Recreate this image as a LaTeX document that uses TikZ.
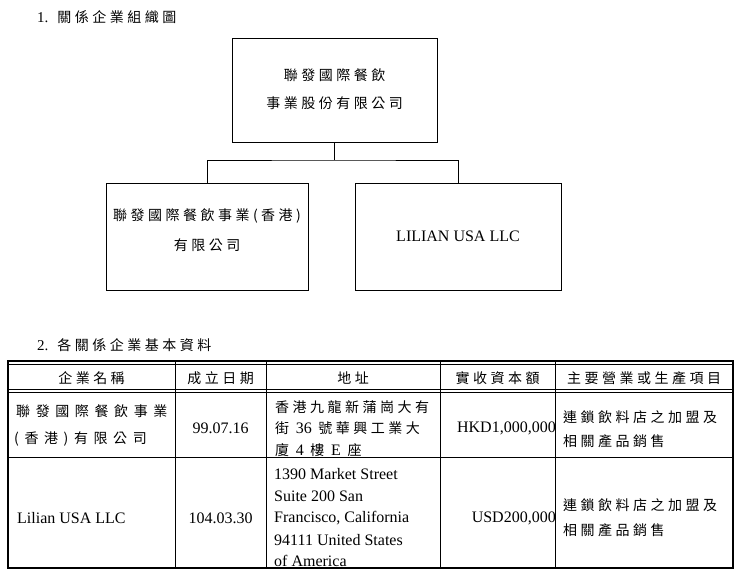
\documentclass[tikz,border=0pt]{standalone}
\usepackage{fontspec}
\setmainfont{Liberation Serif}
\newfontfamily\cjk[LetterSpace=25]{Noto Sans CJK TC}
\newfontfamily\cjkw[LetterSpace=40]{Noto Sans CJK TC}
\begin{document}
\begin{tikzpicture}[x=1pt,y=-1pt,
  box/.style={draw,line width=0.8pt},
  t/.style={inner sep=0pt,font=\fontsize{16}{16}\selectfont},
  c/.style={inner sep=0pt,font=\cjk\fontsize{14}{14}\selectfont},
  cw/.style={inner sep=0pt,font=\cjkw\fontsize{14}{14}\selectfont},
  ln/.style={line width=0.8pt}]
\useasboundingbox (0,0) rectangle (740,577);
\node[c,anchor=west] (t1) at (37,17) {{\rmfamily\fontsize{15}{15}\selectfont 1.} 關係企業組織圖};
\node[box,minimum width=205pt,minimum height=104pt] (top) at (334.5,90) {};
\node[c] (top1) at (334.5,75) {聯發國際餐飲};
\node[c] (top2) at (334.5,103) {事業股份有限公司};
\node[box,minimum width=202pt,minimum height=107pt] (l) at (207,236.5) {};
\node[c] (l1) at (207,216) {聯發國際餐飲事業(香港)};
\node[c] (l2) at (207,245) {有限公司};
\node[box,minimum width=206pt,minimum height=107pt] (r) at (458,236.5) {};
\node[t] (r1) at (458,236) {LILIAN USA LLC};
\coordinate (j) at (334.5,160);
\draw[ln] (top.south) -- (j);
\draw[ln] (l.north) |- (j) -| (r.north);
\node[c,anchor=west] (t2) at (37,345) {{\rmfamily\fontsize{15}{15}\selectfont 2.} 各關係企業基本資料};
% table
\draw[line width=1.2pt] (8,361) rectangle (733,568);
\draw[ln] (8,364.5) -- (733,364.5);
\draw[ln] (8,389) -- (733,389);
\draw[ln] (8,392.5) -- (733,392.5);
\draw[ln] (8,457) -- (733,457);
\foreach \x in {175,266,440,555} \draw[ln] (\x,361) -- (\x,568);
\node[c] (h1) at (91.5,378) {企業名稱};
\node[c] (h2) at (220.5,378) {成立日期};
\node[c] (h3) at (353,378) {地址};
\node[c] (h4) at (497.5,378) {實收資本額};
\node[c] (h5) at (644,378) {主要營業或生產項目};
\node[cw,anchor=west] (a1) at (16,411) {聯發國際餐飲事業};
\node[cw,anchor=west] (a2) at (14,439) {(香港)有限公司};
\node[t] (a3) at (220.5,428) {99.07.16};
\node[c,anchor=west] (a4) at (275,407) {香港九龍新蒲崗大有};
\node[c,anchor=west] (a5) at (275,428.5) {街 {\rmfamily\fontsize{16}{16}\selectfont 36} 號華興工業大};
\node[c,anchor=west] (a6) at (275,450) {廈 {\rmfamily\fontsize{16}{16}\selectfont 4} 樓 {\rmfamily\fontsize{16}{16}\selectfont E} 座};
\node[t,anchor=east] (a7) at (556,428) {HKD1,000,000};
\node[c,anchor=west] (a8) at (563,417) {連鎖飲料店之加盟及};
\node[c,anchor=west] (a9) at (563,441) {相關產品銷售};
\node[t,anchor=west] (b1) at (17,518) {Lilian USA LLC};
\node[t] (b2) at (220.5,518) {104.03.30};
\node[t,anchor=west] (b3) at (274,474) {1390 Market Street};
\node[t,anchor=west] (b4) at (274,496) {Suite 200 San};
\node[t,anchor=west] (b5) at (274,518) {Francisco, California};
\node[t,anchor=west] (b6) at (274,540) {94111 United States};
\node[t,anchor=west] (b7) at (274,561) {of America};
\node[t,anchor=east] (b8) at (556,518) {USD200,000};
\node[c,anchor=west] (b9) at (563,505) {連鎖飲料店之加盟及};
\node[c,anchor=west] (b10) at (563,530) {相關產品銷售};
\end{tikzpicture}
\end{document}
